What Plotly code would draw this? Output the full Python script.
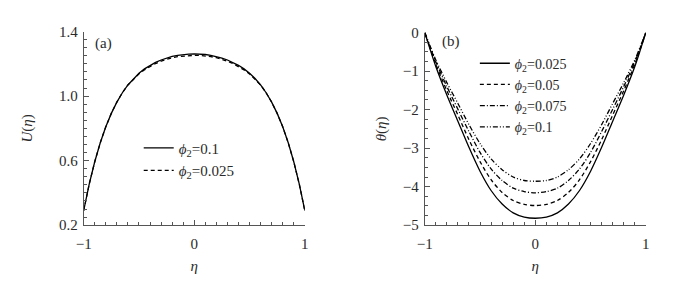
import plotly.graph_objects as go
from plotly.subplots import make_subplots

# ---------------- data ----------------
eta_u = [-1.0, -0.95, -0.9, -0.85, -0.8, -0.75, -0.7, -0.65, -0.6, -0.55, -0.5, -0.45,
         -0.4, -0.35, -0.3, -0.25, -0.2, -0.15, -0.1, -0.05, 0.0,
         0.05, 0.1, 0.15, 0.2, 0.25, 0.3, 0.35, 0.4, 0.45, 0.5, 0.55,
         0.6, 0.65, 0.7, 0.75, 0.8, 0.85, 0.9, 0.95, 1.0]
U_phi_010 = [0.29, 0.454, 0.593, 0.711, 0.810, 0.893, 0.963, 1.021, 1.069, 1.109, 1.142, 1.169,
             1.191, 1.209, 1.224, 1.236, 1.246, 1.253, 1.258, 1.261, 1.262,
             1.261, 1.258, 1.253, 1.246, 1.236, 1.224, 1.209, 1.191, 1.169, 1.142, 1.109,
             1.069, 1.021, 0.963, 0.893, 0.810, 0.711, 0.593, 0.454, 0.29]
U_phi_0025 = [0.29, 0.454, 0.593, 0.711, 0.810, 0.893, 0.963, 1.021, 1.069, 1.106, 1.138, 1.163,
              1.184, 1.202, 1.217, 1.229, 1.238, 1.245, 1.249, 1.252, 1.253,
              1.252, 1.249, 1.245, 1.238, 1.229, 1.217, 1.202, 1.184, 1.163, 1.138, 1.106,
              1.069, 1.021, 0.963, 0.893, 0.810, 0.711, 0.593, 0.454, 0.29]

eta_t = [-1.0, -0.95, -0.9, -0.8, -0.7, -0.6, -0.5, -0.4, -0.3, -0.2, -0.1, 0.0,
         0.1, 0.2, 0.3, 0.4, 0.5, 0.6, 0.7, 0.8, 0.9, 0.95, 1.0]
T_phi_0025 = [0.0, -0.45, -0.88, -1.62, -2.30, -2.98, -3.60, -4.10, -4.45, -4.68, -4.79, -4.82,
              -4.79, -4.68, -4.45, -4.10, -3.60, -2.98, -2.30, -1.62, -0.88, -0.45, 0.0]
T_phi_005 = [0.0, -0.42, -0.82, -1.51, -2.14, -2.78, -3.35, -3.82, -4.15, -4.36, -4.46, -4.49,
             -4.46, -4.36, -4.15, -3.82, -3.35, -2.78, -2.14, -1.51, -0.82, -0.42, 0.0]
T_phi_0075 = [0.0, -0.39, -0.76, -1.40, -1.99, -2.57, -3.11, -3.54, -3.84, -4.04, -4.13, -4.16,
              -4.13, -4.04, -3.84, -3.54, -3.11, -2.57, -1.99, -1.40, -0.76, -0.39, 0.0]
T_phi_010 = [0.0, -0.36, -0.71, -1.30, -1.84, -2.39, -2.88, -3.28, -3.56, -3.75, -3.84, -3.86,
             -3.84, -3.75, -3.56, -3.28, -2.88, -2.39, -1.84, -1.30, -0.71, -0.36, 0.0]

left_labels = ["<i>ϕ</i><sub>2</sub>=0.1", "<i>ϕ</i><sub>2</sub>=0.025"]
right_labels = ["<i>ϕ</i><sub>2</sub>=0.025", "<i>ϕ</i><sub>2</sub>=0.05",
                "<i>ϕ</i><sub>2</sub>=0.075", "<i>ϕ</i><sub>2</sub>=0.1"]

x_tickvals = [-1, 0, 1]
x_ticktext = ["\u22121", "0", "1"]
x_midticks = [-0.5, 0.5]
u_tickvals = [0.2, 0.6, 1.0, 1.4]
u_ticktext = ["0.2", "0.6", "1.0", "1.4"]
u_midticks = [0.4, 0.8, 1.2]
t_tickvals = [0, -1, -2, -3, -4, -5]
t_ticktext = ["0", "\u22121", "\u22122", "\u22123", "\u22124", "\u22125"]

# ---------------- figure ----------------
FONT = "'Liberation Serif', 'DejaVu Serif', serif"
TXT = "#2a2a2a"
AX = "#555"
fig = make_subplots(rows=1, cols=2)

lw = 1.3
fig.add_trace(go.Scatter(x=eta_u, y=U_phi_010, mode="lines", name=left_labels[0],
                         line=dict(color="black", width=lw),
                         legend="legend"), row=1, col=1)
fig.add_trace(go.Scatter(x=eta_u, y=U_phi_0025, mode="lines", name=left_labels[1],
                         line=dict(color="black", width=lw, dash="4px,3px"),
                         legend="legend"), row=1, col=1)

dashes = ["solid", "4px,3px", "5px,2px,1px,2px", "5px,2px,1px,2px,1px,2px"]
for ys, lab, d in zip([T_phi_0025, T_phi_005, T_phi_0075, T_phi_010], right_labels, dashes):
    fig.add_trace(go.Scatter(x=eta_t, y=ys, mode="lines", name=lab,
                             line=dict(color="black", width=lw, dash=d, shape="spline",
                                       smoothing=0.8),
                             legend="legend2"), row=1, col=2)

W, H = 700, 287
XD1 = [77 / W, 302 / W]
XD2 = [424 / W, 649 / W]
YD1 = [1 - 230 / H, 1 - 25 / H]
YD2 = [1 - 230 / H, 1 - 26 / H]

axis_common = dict(showline=True, linecolor=AX, linewidth=1, mirror=False,
                   ticks="inside", ticklen=5, tickcolor=AX, tickwidth=1,
                   showgrid=False, zeroline=False,
                   tickfont=dict(family=FONT, size=15, color=TXT))

fig.update_xaxes(**axis_common, range=[-1, 1], tickmode="array",
                 tickvals=x_tickvals, ticktext=x_ticktext, ticklabelstandoff=5,
                 minor=dict(ticks="inside", ticklen=3, tickcolor=AX, dtick=0.1, tick0=0),
                 title=dict(text="<i>η</i>", font=dict(family=FONT, size=15, color=TXT), standoff=9))
fig.update_xaxes(domain=XD1, row=1, col=1)
fig.update_xaxes(domain=XD2, row=1, col=2)

fig.update_yaxes(**axis_common)
fig.update_yaxes(domain=YD1, range=[0.2, 1.4], tickmode="array",
                 tickvals=u_tickvals, ticktext=u_ticktext, ticklabelstandoff=2,
                 minor=dict(ticks="inside", ticklen=3, tickcolor=AX, dtick=0.05, tick0=0.2),
                 title=dict(text="<i>U</i>(<i>η</i>)", font=dict(family=FONT, size=15, color=TXT),
                            standoff=22),
                 row=1, col=1)
fig.update_yaxes(domain=YD2, range=[-5, 0], tickmode="array",
                 tickvals=t_tickvals, ticktext=t_ticktext, ticklabelstandoff=2,
                 minor=dict(ticks="inside", ticklen=3, tickcolor=AX, dtick=0.25, tick0=0),
                 title=dict(text="<i>θ</i>(<i>η</i>)", font=dict(family=FONT, size=15, color=TXT),
                            standoff=12),
                 row=1, col=2)

# unlabeled medium-length ticks via overlaying axes
mid = dict(showline=False, ticks="inside", ticklen=5, tickcolor=AX, tickwidth=1,
           showticklabels=False, showgrid=False, zeroline=False, tickmode="array")
fig.update_layout(
    xaxis3=dict(**mid, overlaying="x", anchor="y", domain=XD1, range=[-1, 1],
                tickvals=x_midticks, side="bottom"),
    xaxis4=dict(**mid, overlaying="x2", anchor="y2", domain=XD2, range=[-1, 1],
                tickvals=x_midticks, side="bottom"),
    yaxis3=dict(**mid, overlaying="y", anchor="x", domain=YD1, range=[0.2, 1.4],
                tickvals=u_midticks, side="left"),
)

fig.update_layout(
    width=W, height=H,
    margin=dict(l=0, r=0, t=0, b=0),
    paper_bgcolor="white", plot_bgcolor="white",
    showlegend=True,
    legend=dict(x=133 / W, y=1 - 131 / H, xanchor="left", yanchor="top",
                bgcolor="rgba(0,0,0,0)", font=dict(family=FONT, size=15, color=TXT),
                tracegroupgap=0, itemwidth=30),
    legend2=dict(x=475 / W, y=1 - 42 / H, xanchor="left", yanchor="top",
                 bgcolor="rgba(0,0,0,0)", font=dict(family=FONT, size=14, color=TXT),
                 tracegroupgap=0, itemwidth=30),
    annotations=[
        dict(text="(a)", x=97 / W, y=1 - 38 / H, xref="paper", yref="paper",
             showarrow=False, font=dict(family=FONT, size=15, color=TXT),
             xanchor="center", yanchor="middle"),
        dict(text="(b)", x=451 / W, y=1 - 36 / H, xref="paper", yref="paper",
             showarrow=False, font=dict(family=FONT, size=15, color=TXT),
             xanchor="center", yanchor="middle"),
    ],
)

fig.write_html("out.html")
